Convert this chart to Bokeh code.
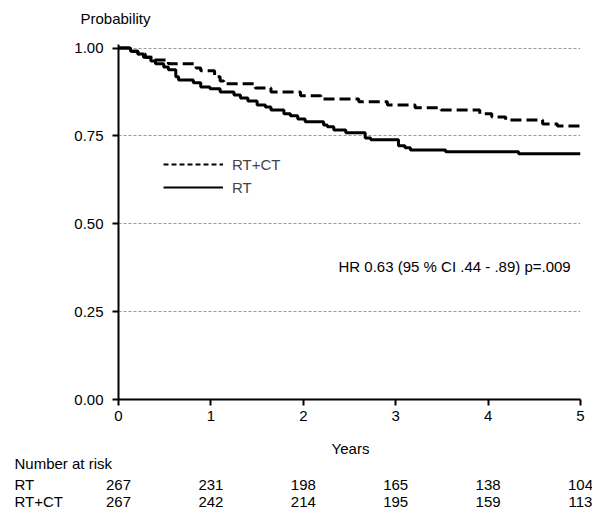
from bokeh.plotting import figure
from bokeh.layouts import column
from bokeh.core.properties import value
from bokeh.models import (FixedTicker, PrintfTickFormatter, Label,
                          ColumnDataSource, Legend, LegendItem, Range1d)
from bokeh.embed import file_html
from bokeh.resources import INLINE

# ---- data ----
rt_times = [0, 0.13, 0.21, 0.27, 0.35, 0.40, 0.49, 0.54, 0.62, 0.65, 0.81, 0.89, 0.99,
            1.10, 1.25, 1.32, 1.40, 1.50, 1.59, 1.65, 1.79, 1.86, 1.94, 2.02, 2.22,
            2.26, 2.33, 2.46, 2.67, 2.73, 3.03, 3.10, 3.16, 3.54, 4.33, 5.0]
rt_surv = [1.0, 0.991, 0.983, 0.974, 0.963, 0.955, 0.946, 0.938, 0.918, 0.909, 0.901,
           0.889, 0.884, 0.875, 0.866, 0.858, 0.849, 0.838, 0.832, 0.824, 0.813, 0.807,
           0.798, 0.790, 0.781, 0.776, 0.767, 0.759, 0.744, 0.739, 0.722, 0.716, 0.710,
           0.705, 0.699, 0.699]

rtct_times = [0, 0.13, 0.21, 0.29, 0.38, 0.54, 0.84, 0.89, 1.04, 1.10, 1.14, 1.48,
              1.65, 1.97, 2.19, 2.60, 2.91, 3.21, 3.49, 3.91, 4.04, 4.19, 4.59, 4.75, 5.0]
rtct_surv = [1.0, 0.991, 0.983, 0.974, 0.966, 0.955, 0.943, 0.935, 0.918, 0.906, 0.898,
             0.886, 0.875, 0.864, 0.855, 0.847, 0.838, 0.830, 0.824, 0.813, 0.804, 0.795,
             0.784, 0.778, 0.778]

risk_years = [0, 1, 2, 3, 4, 5]
risk_rt = [267, 231, 198, 165, 138, 104]
risk_rtct = [267, 242, 214, 195, 159, 113]
risk_groups = ["RT", "RT+CT"]

y_ticks = [0, 0.25, 0.5, 0.75, 1.0]
x_ticks = [0, 1, 2, 3, 4, 5]

FONT = "Liberation Sans"
FS = "15px"

W = 592
LEFT, RIGHT = 118, 12
PXX = (W - LEFT - RIGHT) / 5.0
XR = (-LEFT / PXX, (W - LEFT) / PXX)   # full-width range for text strips


def strip(h):
    f = figure(width=W, height=h, output_backend="svg", toolbar_location=None,
               x_range=Range1d(*XR), y_range=Range1d(h, 0),
               x_axis_type=None, y_axis_type=None, min_border=0)
    f.outline_line_color = None
    f.xgrid.grid_line_color = None
    f.ygrid.grid_line_color = None
    f.background_fill_color = "white"
    f.border_fill_color = "white"
    try:
        f.frame_align = False
    except Exception:
        pass
    return f


# ---------------- top strip (y-axis title) ----------------
TH = 32
t = strip(TH)
t.text(x=[(80 - LEFT) / PXX], y=[18], text=["Probability"], text_font=value(FONT),
       text_font_size=FS, text_align="left", text_baseline="middle", text_color="black")

# ---------------- main survival plot ----------------
p = figure(width=W, height=400, output_backend="svg", toolbar_location=None,
           x_range=Range1d(0, 5), y_range=Range1d(0, 1.01),
           min_border_left=LEFT, min_border_right=RIGHT, min_border_top=12,
           min_border_bottom=33)
p.outline_line_color = None
p.background_fill_color = "white"
p.border_fill_color = "white"
try:
    p.frame_align = False
except Exception:
    pass

for ax in (p.xaxis[0], p.yaxis[0]):
    ax.axis_line_width = 2
    ax.axis_line_color = "black"
    ax.major_tick_line_width = 2
    ax.major_tick_line_color = "black"
    ax.major_tick_out = 6
    ax.major_tick_in = 0
    ax.minor_tick_out = 0
    ax.minor_tick_in = 0
    ax.major_label_text_font = FONT
    ax.major_label_text_font_size = FS
    ax.major_label_text_color = "black"

p.yaxis.ticker = FixedTicker(ticks=y_ticks)
p.yaxis.formatter = PrintfTickFormatter(format="%.2f")
p.yaxis.major_label_standoff = 9
p.xaxis.ticker = FixedTicker(ticks=x_ticks)
p.xaxis.major_label_standoff = 5

p.xgrid.grid_line_color = None
p.ygrid.ticker = FixedTicker(ticks=[0.25, 0.5, 0.75, 1.0])
p.ygrid.grid_line_color = "#999999"
p.ygrid.grid_line_dash = "3 2"
p.ygrid.grid_line_width = 1

p.step(rtct_times, rtct_surv, mode="after", line_color="black", line_width=3,
       line_dash="11 5")
p.step(rt_times, rt_surv, mode="after", line_color="black", line_width=3)

nan = float("nan")
leg_d = p.line(x=[nan], y=[nan], line_color="black", line_width=2, line_dash="5 3")
leg_s = p.line(x=[nan], y=[nan], line_color="black", line_width=2)
legend = Legend(items=[LegendItem(label="RT+CT", renderers=[leg_d]),
                       LegendItem(label="RT", renderers=[leg_s])],
                location=(45, 202), glyph_width=60, glyph_height=20,
                label_height=20, spacing=3, label_standoff=9, padding=0,
                margin=0, border_line_color=None, background_fill_alpha=0,
                label_text_font=FONT, label_text_font_size=FS)
p.add_layout(legend, "center")

PXY = 355 / 1.01
p.add_layout(Label(x=(338 - LEFT) / PXX, y=(399 - 266) / PXY,
                   text="HR 0.63 (95 % CI .44 - .89) p=.009",
                   text_font=FONT, text_font_size=FS, text_baseline="middle",
                   text_color="black"))

# ---------------- risk table ----------------
RH = 82
r = strip(RH)
row_y = [52, 69]      # vertical offsets of table rows within this strip
x_label = (14 - LEFT) / PXX

r.text(x=[(350 - LEFT) / PXX], y=[16], text=["Years"], text_font=value(FONT),
       text_font_size=FS, text_align="center", text_baseline="middle", text_color="black")
r.text(x=[x_label], y=[31], text=["Number at risk"], text_font=value(FONT),
       text_font_size=FS, text_align="left", text_baseline="middle", text_color="black")
r.text(x=[x_label, x_label], y=row_y, text=risk_groups, text_font=value(FONT),
       text_font_size=FS, text_align="left", text_baseline="middle", text_color="black")

src = ColumnDataSource(dict(
    x=risk_years + risk_years,
    y=[row_y[0]] * len(risk_years) + [row_y[1]] * len(risk_years),
    t=[str(v) for v in risk_rt] + [str(v) for v in risk_rtct]))
r.text(x="x", y="y", text="t", source=src, text_font=value(FONT), text_font_size=FS,
       text_align="center", text_baseline="middle", text_color="black")

layout = column(t, p, r, spacing=0)
open("out.html", "w").write(file_html(layout, INLINE))
